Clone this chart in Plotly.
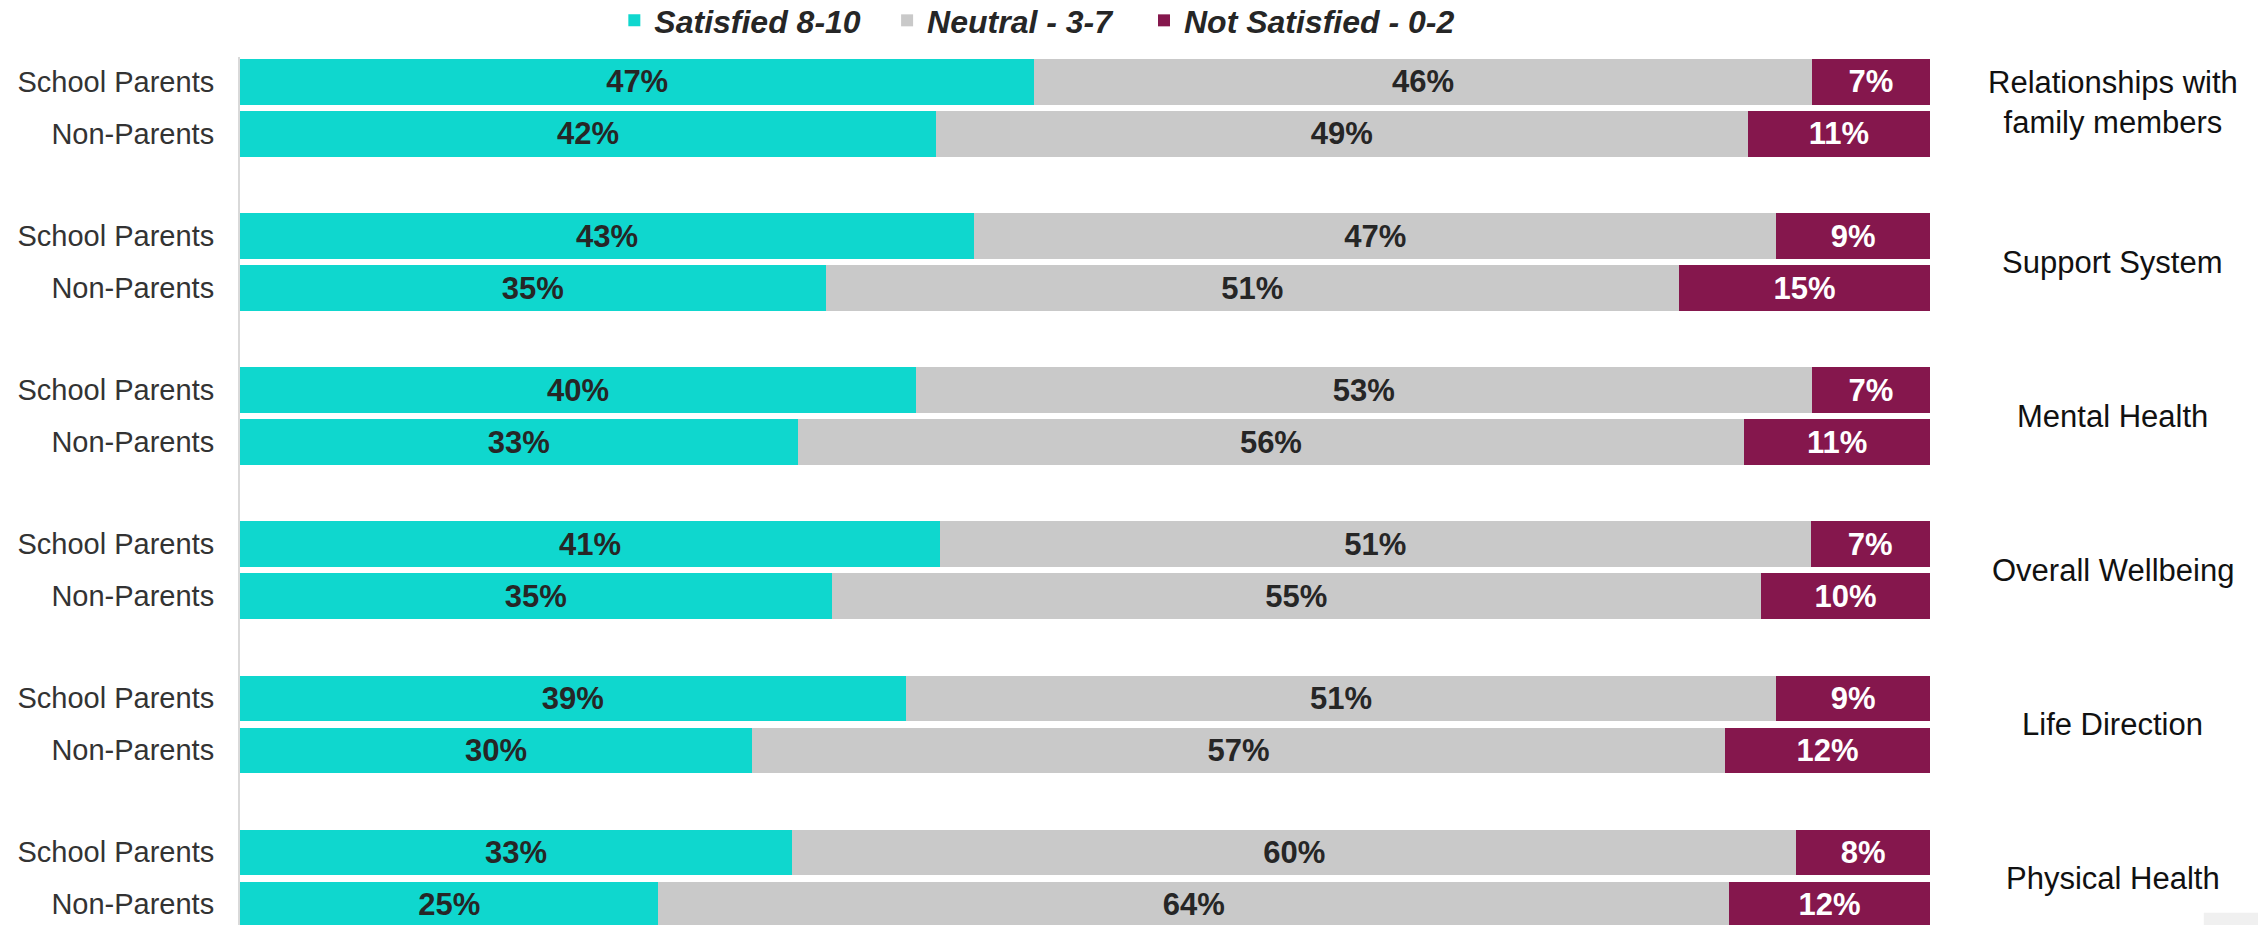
import plotly.graph_objects as go

# categories
topics = ["Relationships with<br>family members", "Support System", "Mental Health",
          "Overall Wellbeing", "Life Direction", "Physical Health"]
rows = ["School Parents", "Non-Parents"]

# values (%) per topic, school parents / non-parents
sat_school = [47, 43, 40, 41, 39, 33]
sat_non = [42, 35, 33, 35, 30, 25]
neu_school = [46, 47, 53, 51, 51, 60]
neu_non = [49, 51, 56, 55, 57, 64]
not_school = [7, 9, 7, 7, 9, 8]
not_non = [11, 15, 11, 10, 12, 12]

series = [
    ("Satisfied 8-10", sat_school, sat_non, "#0FD7CE", "#262626", "legend", 0.2215),
    ("Neutral - 3-7", neu_school, neu_non, "#C9C9C9", "#262626", "legend2", 0.3829),
    ("Not Satisfied - 0-2", not_school, not_non, "#85174D", "#FFFFFF", "legend3", 0.5349),
]

PITCH = 2.962  # group spacing in row units
ypos, ylab = [], []
for g in range(len(topics)):
    for k, r in enumerate(rows):
        ypos.append(g * PITCH + k)
        ylab.append(r)

FONT = "Arial, Liberation Sans, sans-serif"

fig = go.Figure()
legends = {}
for name, vs, vn, color, tcolor, leg, lx in series:
    vals = []
    for a, b in zip(vs, vn):
        vals += [a, b]
    fig.add_trace(go.Bar(
        y=ypos, x=vals, name=name, orientation="h", legend=leg, showlegend=True,
        width=0.87, marker=dict(color=color, line=dict(width=0)),
        text=vals, texttemplate="%{text}%", textposition="inside",
        insidetextanchor="middle", textangle=0, constraintext="none",
        textfont=dict(family=FONT, size=31, color=tcolor, weight="bold"),
        hoverinfo="skip",
    ))
    legends[leg] = dict(
        orientation="h", x=lx, xanchor="left", y=1.042, yanchor="middle",
        bgcolor="rgba(0,0,0,0)",
        font=dict(family=FONT, size=32, color="#262626", weight="bold", style="italic"),
    )

for g, t in enumerate(topics):
    fig.add_annotation(
        x=1.108, xref="paper", y=g * PITCH + 0.5, yref="y",
        text=t, showarrow=False, xanchor="center", yanchor="middle",
        yshift=5 if "<br>" in t else 0,
        font=dict(family=FONT, size=31, color="#111111"),
    )

# small grey box in the bottom-right corner
fig.add_shape(type="rect", xref="paper", yref="paper", x0=1.162, x1=1.2, y0=-0.01, y1=0.014,
              fillcolor="#F0F0F0", line=dict(width=0), layer="below")

fig.update_layout(
    width=2258, height=917,
    showlegend=True,
    barmode="stack", barnorm="percent",
    margin=dict(l=232, r=336, t=49, b=0, autoexpand=False),
    plot_bgcolor="white", paper_bgcolor="white",
    font=dict(family=FONT),
    xaxis=dict(range=[0, 100], showgrid=False, showticklabels=False, zeroline=False,
               fixedrange=True, automargin=False),
    yaxis=dict(
        range=[16.21, -0.48], tickmode="array", tickvals=ypos, ticktext=ylab,
        showgrid=False, zeroline=False, ticks="", ticklabelstandoff=18, automargin=False,
        tickfont=dict(family=FONT, size=29, color="#333333"),
        showline=True, linecolor="#D9D9D9", linewidth=2,
    ),
    **legends,
)

fig.write_html("out.html")
